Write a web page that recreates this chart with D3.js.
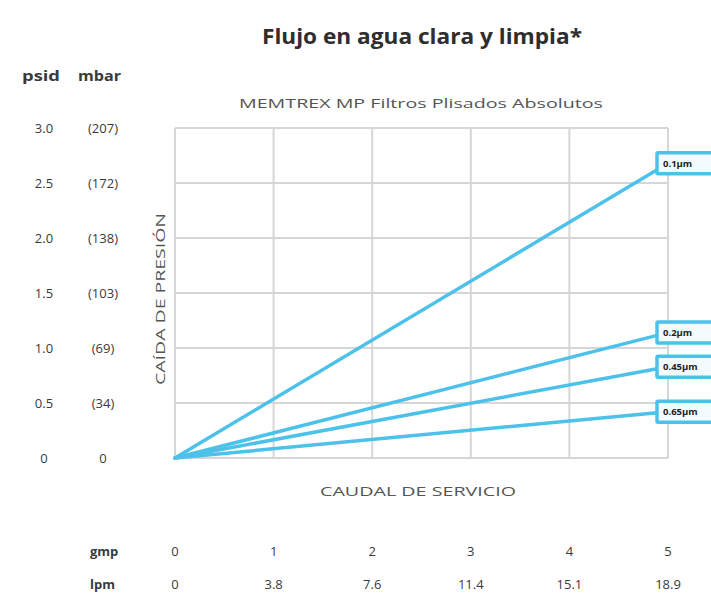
<!DOCTYPE html>
<html><head><meta charset="utf-8">
<script src="https://cdn.jsdelivr.net/npm/d3@7/dist/d3.min.js"></script>
<style>body{margin:0;background:#fff;}svg{display:block;font-family:"Open Sans",sans-serif;}</style>
</head><body>
<svg id="c" width="711" height="601"></svg>
<script>
const gmpTicks = [0, 1, 2, 3, 4, 5];
const lpmLabels = ["0", "3.8", "7.6", "11.4", "15.1", "18.9"];
const psidTicks = [0, 0.5, 1.0, 1.5, 2.0, 2.5, 3.0];
const psidLabels = ["0", "0.5", "1.0", "1.5", "2.0", "2.5", "3.0"];
const mbarLabels = ["0", "(34)", "(69)", "(103)", "(138)", "(172)", "(207)"];
const seriesNames = ["0.1µm", "0.2µm", "0.45µm", "0.65µm"];
const flowGmp = [0, 5];
const drop01 = [0, 2.68];
const drop02 = [0, 1.14];
const drop045 = [0, 0.83];
const drop065 = [0, 0.42];
const seriesValues = [drop01, drop02, drop045, drop065];

const svg = d3.select("#c");
const x = d3.scaleLinear().domain([0, 5]).range([175, 668]);
const y = d3.scaleLinear().domain([0, 3]).range([458, 128]);
const blue = "#4cc1ea", grid = "#d6d6d6", txt = "#3a3a3a";

// grid
svg.append("g").selectAll("line").data(gmpTicks).join("line")
  .attr("x1", d => x(d)).attr("x2", d => x(d)).attr("y1", y(3)).attr("y2", y(0))
  .attr("stroke", grid).attr("stroke-width", 2);
svg.append("g").selectAll("line").data(psidTicks).join("line")
  .attr("x1", x(0)).attr("x2", x(5)).attr("y1", d => y(d)).attr("y2", d => y(d))
  .attr("stroke", grid).attr("stroke-width", 2);

// titles
svg.append("text").attr("x", 422).attr("y", 44).attr("text-anchor", "middle")
  .attr("font-size", 21).attr("font-weight", "bold").attr("fill", "#2e2e2e")
  .attr("textLength", 320).attr("lengthAdjust", "spacingAndGlyphs")
  .text("Flujo en agua clara y limpia*");
svg.append("text").attr("x", 421).attr("y", 108).attr("text-anchor", "middle")
  .attr("font-size", 13).attr("fill", "#555")
  .attr("textLength", 364).attr("lengthAdjust", "spacingAndGlyphs")
  .text("MEMTREX MP Filtros Plisados Absolutos");
svg.append("text").attr("x", 22).attr("y", 81).attr("font-size", 14).attr("font-weight", "bold")
  .attr("fill", txt).attr("textLength", 38).attr("lengthAdjust", "spacingAndGlyphs").text("psid");
svg.append("text").attr("x", 78).attr("y", 81).attr("font-size", 14).attr("font-weight", "bold")
  .attr("fill", txt).attr("textLength", 43).attr("lengthAdjust", "spacingAndGlyphs").text("mbar");

// y labels
svg.append("g").selectAll("text").data(psidTicks).join("text")
  .attr("x", 44).attr("y", d => y(d) + 5).attr("text-anchor", "middle")
  .attr("font-size", 13).attr("fill", txt).text((d, i) => psidLabels[i]);
svg.append("g").selectAll("text").data(psidTicks).join("text")
  .attr("x", 103).attr("y", d => y(d) + 5).attr("text-anchor", "middle")
  .attr("font-size", 13).attr("fill", txt).text((d, i) => mbarLabels[i]);

svg.append("text").attr("transform", "translate(165,299) rotate(-90)").attr("text-anchor", "middle")
  .attr("font-size", 13).attr("fill", "#555").attr("textLength", 172).attr("lengthAdjust", "spacingAndGlyphs")
  .text("CAÍDA DE PRESIÓN");
svg.append("text").attr("x", 418).attr("y", 496).attr("text-anchor", "middle")
  .attr("font-size", 13).attr("fill", "#555").attr("textLength", 196).attr("lengthAdjust", "spacingAndGlyphs")
  .text("CAUDAL DE SERVICIO");

// bottom axes
svg.append("text").attr("x", 90).attr("y", 556).attr("font-size", 13).attr("font-weight", "bold")
  .attr("fill", txt).text("gmp");
svg.append("text").attr("x", 90).attr("y", 589).attr("font-size", 13).attr("font-weight", "bold")
  .attr("fill", txt).text("lpm");
svg.append("g").selectAll("text").data(gmpTicks).join("text")
  .attr("x", d => x(d)).attr("y", 556).attr("text-anchor", "middle")
  .attr("font-size", 13).attr("fill", txt).text(d => d);
svg.append("g").selectAll("text").data(gmpTicks).join("text")
  .attr("x", d => x(d)).attr("y", 589).attr("text-anchor", "middle")
  .attr("font-size", 13).attr("fill", txt).text((d, i) => lpmLabels[i]);

// lines
const line = d3.line().x((d, i) => x(flowGmp[i])).y(d => y(d));
svg.append("g").selectAll("path").data(seriesValues).join("path")
  .attr("d", d => line(d)).attr("fill", "none").attr("stroke", blue).attr("stroke-width", 3.5)
  .attr("stroke-linecap", "round");

// label boxes
const lab = svg.append("g").selectAll("g").data(seriesValues).join("g")
  .attr("transform", d => `translate(${x(5) - 11},${y(d[1])})`);
lab.append("rect").attr("x", 0).attr("y", -10.5).attr("width", 70).attr("height", 21)
  .attr("fill", "#f4fbfe").attr("stroke", blue).attr("stroke-width", 3.5).attr("rx", 1);
lab.append("text").attr("x", 6).attr("y", 3.5).attr("font-size", 9.5).attr("font-weight", "bold")
  .attr("fill", "#222").text((d, i) => seriesNames[i]);
</script>
</body></html>
